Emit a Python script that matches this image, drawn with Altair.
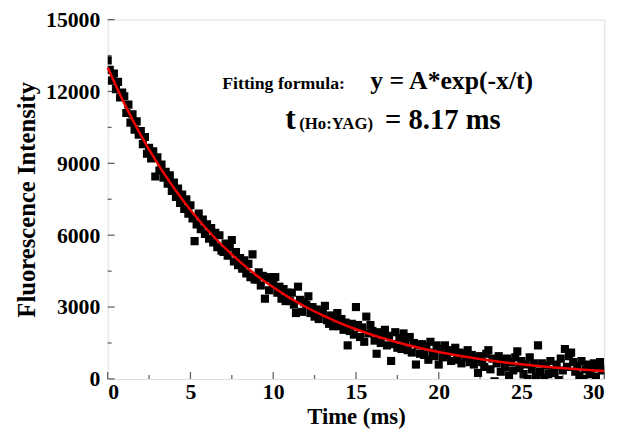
import altair as alt
import pandas as pd

# ---------------- data ----------------
time_ms = [
    0.0, 0.125, 0.25, 0.375, 0.5, 0.625, 0.75, 0.875,
    1.0, 1.125, 1.25, 1.375, 1.5, 1.625, 1.75, 1.875,
    2.0, 2.125, 2.25, 2.375, 2.5, 2.625, 2.75, 2.875,
    3.0, 3.125, 3.25, 3.375, 3.5, 3.625, 3.75, 3.875,
    4.0, 4.125, 4.25, 4.375, 4.5, 4.625, 4.75, 4.875,
    5.0, 5.125, 5.25, 5.375, 5.5, 5.625, 5.75, 5.875,
    6.0, 6.125, 6.25, 6.375, 6.5, 6.625, 6.75, 6.875,
    7.0, 7.125, 7.25, 7.375, 7.5, 7.625, 7.75, 7.875,
    8.0, 8.125, 8.25, 8.375, 8.5, 8.625, 8.75, 8.875,
    9.0, 9.125, 9.25, 9.375, 9.5, 9.625, 9.75, 9.875,
    10.0, 10.125, 10.25, 10.375, 10.5, 10.625, 10.75, 10.875,
    11.0, 11.125, 11.25, 11.375, 11.5, 11.625, 11.75, 11.875,
    12.0, 12.125, 12.25, 12.375, 12.5, 12.625, 12.75, 12.875,
    13.0, 13.125, 13.25, 13.375, 13.5, 13.625, 13.75, 13.875,
    14.0, 14.125, 14.25, 14.375, 14.5, 14.625, 14.75, 14.875,
    15.0, 15.125, 15.25, 15.375, 15.5, 15.625, 15.75, 15.875,
    16.0, 16.125, 16.25, 16.375, 16.5, 16.625, 16.75, 16.875,
    17.0, 17.125, 17.25, 17.375, 17.5, 17.625, 17.75, 17.875,
    18.0, 18.125, 18.25, 18.375, 18.5, 18.625, 18.75, 18.875,
    19.0, 19.125, 19.25, 19.375, 19.5, 19.625, 19.75, 19.875,
    20.0, 20.125, 20.25, 20.375, 20.5, 20.625, 20.75, 20.875,
    21.0, 21.125, 21.25, 21.375, 21.5, 21.625, 21.75, 21.875,
    22.0, 22.125, 22.25, 22.375, 22.5, 22.625, 22.75, 22.875,
    23.0, 23.125, 23.25, 23.375, 23.5, 23.625, 23.75, 23.875,
    24.0, 24.125, 24.25, 24.375, 24.5, 24.625, 24.75, 24.875,
    25.0, 25.125, 25.25, 25.375, 25.5, 25.625, 25.75, 25.875,
    26.0, 26.125, 26.25, 26.375, 26.5, 26.625, 26.75, 26.875,
    27.0, 27.125, 27.25, 27.375, 27.5, 27.625, 27.75, 27.875,
    28.0, 28.125, 28.25, 28.375, 28.5, 28.625, 28.75, 28.875,
    29.0, 29.125, 29.25, 29.375, 29.5, 29.625, 29.75, 29.875,
    30.0,
]

intensity = [
    13300, 12900, 12450, 12750, 12100, 12400, 11750, 11950,
    11800, 11100, 11450, 10700, 11050, 10400, 10750, 10200,
    10350, 9800, 10100, 9400, 9650, 9200, 9500, 8450,
    9250, 8700, 8950, 8400, 8650, 8150, 8500, 7850,
    8200, 7600, 7950, 7350, 7700, 7100, 7500, 6900,
    7250, 6700, 5750, 6450, 6900, 6250, 6650, 6050,
    6450, 5850, 6300, 5700, 6100, 5500, 6000, 5350,
    5300, 5650, 5150, 5500, 5800, 4900, 5300, 4750,
    5050, 4600, 4950, 4400, 4800, 4250, 5200, 4150,
    4150, 4450, 3900, 4300, 3350, 4200, 3700, 4250,
    3950, 4250, 3600, 3850, 3350, 3750, 3250, 3600,
    3250, 3600, 3100, 2750, 3850, 3300, 2800, 3200,
    3100, 3450, 2750, 3000, 2600, 2900, 2500, 2850,
    2750, 3050, 2450, 2300, 2650, 2200, 2550, 2750,
    2200, 2500, 2050, 2350, 1400, 2000, 2300, 1850,
    3000, 2250, 1750, 2150, 1550, 2600, 1900, 2250,
    2000, 1600, 1050, 1950, 1500, 1850, 2050, 1400,
    1800, 750, 1450, 1950, 1300, 1700, 1250, 1900,
    1600, 1200, 1750, 1100, 1500, 600, 1400, 1050,
    1450, 1000, 1350, 800, 1550, 1100, 950, 1400,
    600, 1250, 900, 1400, 1000, 1200, 750, 1150,
    1300, 800, 1100, 650, 1050, 900, 1200, 700,
    1000, 600, 850, 250, 950, 700, 500, 1050,
    1200, 400, 850, -100, 650, 950, 300, 800,
    500, 850, 150, 700, 350, 900, 1150, 450,
    750, 200, 600, 0, 900, 400, 650, 100,
    1400, 300, 650, 50, 550, 200, 750, 350,
    250, 600, -50, 850, 350, 1250, 500, 950,
    1100, 700, 300, 550, 150, 750, 0, 400,
    600, 200, 450, 650, 100, 500, 700, 350,
    400,
]

# fitted curve y = A*exp(-x/t), t = 8.17 ms, values read at whole ms
fit_time = [0, 1, 2, 3, 4, 5, 6, 7, 8, 9, 10, 11, 12, 13, 14, 15,
            16, 17, 18, 19, 20, 21, 22, 23, 24, 25, 26, 27, 28, 29, 30]
fit_value = [13000, 11502, 10177, 9005, 7968, 7050, 6238, 5519, 4884, 4321,
             3823, 3383, 2993, 2648, 2343, 2074, 1835, 1623, 1436, 1271,
             1125, 995, 880, 779, 689, 610, 540, 477, 422, 374, 331]

x_major = [0, 5, 10, 15, 20, 25, 30]
x_minor = [2.5, 7.5, 12.5, 17.5, 22.5, 27.5]
y_major = [0, 3000, 6000, 9000, 12000, 15000]
y_minor = [1500, 4500, 7500, 10500, 13500]

FONT = "Liberation Serif"
TFONT = "Times New Roman, Liberation Serif, serif"
W, H = 503, 364

pts = pd.DataFrame({"time": time_ms, "value": intensity})
fit = pd.DataFrame({"time": fit_time, "value": fit_value})

xscale = alt.Scale(domain=[0, 30], nice=False, zero=False)
yscale = alt.Scale(domain=[0, 15000], nice=False, zero=False)

points = alt.Chart(pts).mark_square(size=68, color="black", opacity=1, clip=True).encode(
    x=alt.X("time:Q", scale=xscale, title="Time (ms)",
            axis=alt.Axis(values=x_major, format="d", ticks=False, domain=False, grid=False,
                          labelFont=FONT, labelFontSize=22, labelFontWeight="bold",
                          labelColor="black", labelPadding=3,
                          titleFont=FONT, titleFontSize=23, titleFontWeight="bold",
                          titleColor="black", titlePadding=3)),
    y=alt.Y("value:Q", scale=yscale, title="Fluorescence Intensity",
            axis=alt.Axis(values=y_major, format="d", ticks=False, domain=False, grid=False,
                          labelFont=FONT, labelFontSize=22, labelFontWeight="bold",
                          labelColor="black", labelPadding=8,
                          titleFont=FONT, titleFontSize=25, titleFontWeight="bold",
                          titleColor="black", titlePadding=6)),
)

line = alt.Chart(fit).mark_line(color="#f00000", strokeWidth=2.5, interpolate="monotone").encode(
    x=alt.X("time:Q", scale=xscale),
    y=alt.Y("value:Q", scale=yscale),
)


def xticks(vals, length):
    return alt.Chart(pd.DataFrame({"time": vals})).mark_tick(
        orient="vertical", color="#222", thickness=1.3, size=length).encode(
        x=alt.X("time:Q", scale=xscale),
        y=alt.value(H - length / 2),
    )


def yticks(vals, length):
    return alt.Chart(pd.DataFrame({"value": vals})).mark_tick(
        orient="horizontal", color="#222", thickness=1.3, size=length).encode(
        y=alt.Y("value:Q", scale=yscale),
        x=alt.value(length / 2),
    )


def label(txt, px, py, size):
    return alt.Chart(pd.DataFrame({"t": [txt]})).mark_text(
        font=TFONT, fontWeight="bold", fontSize=size, color="black",
        align="left", baseline="alphabetic").encode(
        x=alt.value(px), y=alt.value(py), text="t:N")


chart = alt.layer(
    points, line,
    xticks(x_major, 7), xticks(x_minor, 4),
    yticks(y_major, 7), yticks(y_minor, 4),
    label("Fitting formula:", 116, 70, 18),
    label("y = A*exp(-x/t)", 266, 70, 26),
    label("t", 180, 111, 32),
    label("(Ho:YAG)", 194, 111, 17),
    label("= 8.17 ms", 281, 111, 29),
).properties(
    width=W, height=H,
    autosize=alt.AutoSizeParams(type="none"),
    padding={"left": 101, "top": 9, "right": 16, "bottom": 50},
).configure_view(
    stroke="#222", strokeWidth=1.5
).configure(background="white")

chart.save("out.html", embed_options={"renderer": "svg", "actions": False})
